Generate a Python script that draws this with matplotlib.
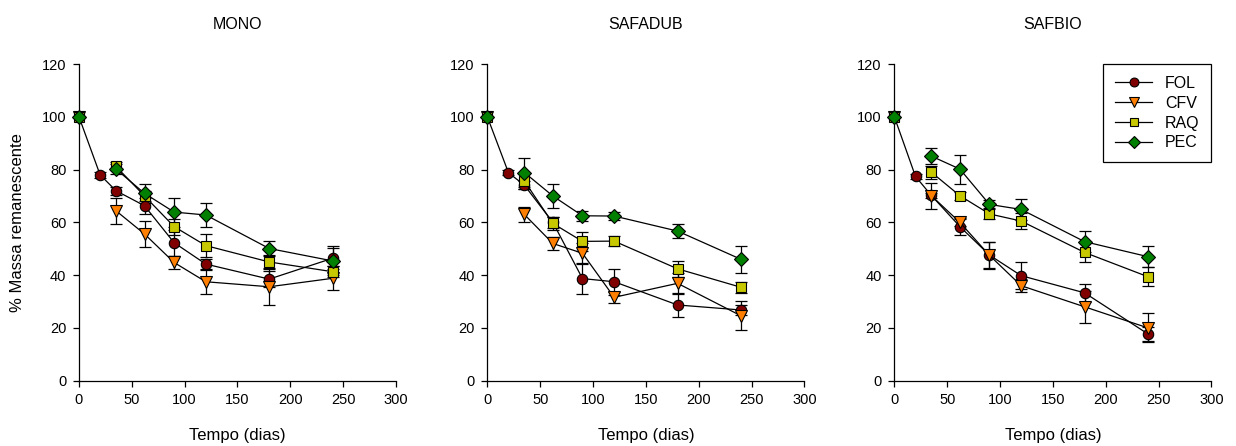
import matplotlib.pyplot as plt
import numpy as np

plt.rcParams['font.family'] = ['Liberation Sans', 'DejaVu Sans']

dias = [0, 20, 35, 62, 90, 120, 180, 240]
nan = np.nan

panels = ['MONO', 'SAFADUB', 'SAFBIO']
series = ['FOL', 'CFV', 'RAQ', 'PEC']

# mean values per panel / series (NaN = not sampled)
mono_fol = [100, 78, 72, 66.3, 52.3, 44.2, 38.5, 46.4]
mono_cfv = [100, nan, 64.4, 55.6, 44.8, 37.5, 35.6, 38.8]
mono_raq = [100, nan, 81.2, 70.0, 58.4, 51.2, 45.0, 41.3]
mono_pec = [100, nan, 80.2, 71.0, 63.9, 62.8, 50.1, 45.4]
mono_fol_err = [0, 1, 1.5, 3, 5, 2, 3, 4]
mono_cfv_err = [0, 0, 5, 5, 2.5, 4.5, 7, 4.5]
mono_raq_err = [0, 0, 1.5, 2, 3, 4.5, 2.5, 2]
mono_pec_err = [0, 0, 2, 3.5, 5.5, 4.5, 3, 5.5]

safadub_fol = [100, 78.8, 74.1, 60.0, 38.7, 37.5, 28.7, 26.8]
safadub_cfv = [100, nan, 63.0, 52.0, 48.3, 31.6, 36.9, 24.6]
safadub_raq = [100, nan, 75.7, 59.6, 52.8, 52.9, 42.4, 35.4]
safadub_pec = [100, nan, 78.9, 70.0, 62.5, 62.4, 56.7, 46.0]
safadub_fol_err = [0, 1, 1.5, 2, 6, 5, 4.5, 2]
safadub_cfv_err = [0, 0, 3, 2.5, 4, 2, 4, 5.5]
safadub_raq_err = [0, 0, 3, 2.5, 3.5, 2, 3, 2]
safadub_pec_err = [0, 0, 5.5, 4.5, 2, 1.5, 2.5, 5]

safbio_fol = [100, 77.4, 70.2, 58.4, 47.6, 39.8, 33.3, 17.7]
safbio_cfv = [100, nan, 70.1, 60.0, 47.5, 36.0, 28.0, 20.0]
safbio_raq = [100, nan, 79.0, 70.1, 63.2, 60.5, 48.6, 39.4]
safbio_pec = [100, nan, 85.1, 80.2, 66.8, 64.9, 52.7, 47.0]
safbio_fol_err = [0, 1, 1, 3, 5, 5, 3.5, 2.5]
safbio_cfv_err = [0, 0, 5, 1.5, 5, 2.5, 6, 5.5]
safbio_raq_err = [0, 0, 2.5, 1.5, 2, 3, 3.5, 3.5]
safbio_pec_err = [0, 0, 3, 5.5, 1.5, 4, 4, 4]

data = {
    'MONO': [(mono_fol, mono_fol_err), (mono_cfv, mono_cfv_err),
             (mono_raq, mono_raq_err), (mono_pec, mono_pec_err)],
    'SAFADUB': [(safadub_fol, safadub_fol_err), (safadub_cfv, safadub_cfv_err),
                (safadub_raq, safadub_raq_err), (safadub_pec, safadub_pec_err)],
    'SAFBIO': [(safbio_fol, safbio_fol_err), (safbio_cfv, safbio_cfv_err),
               (safbio_raq, safbio_raq_err), (safbio_pec, safbio_pec_err)],
}

cores = ['#800000', '#ff8000', '#c8c800', '#007f00']
marcas = ['o', 'v', 's', 'D']
tamanhos = [7.5, 8, 7, 7]

fig = plt.figure(figsize=(12.36, 4.46), dpi=100)
lefts = [0.0639, 0.3943, 0.7236]

for k, painel in enumerate(panels):
    ax = fig.add_axes([lefts[k], 0.1464, 0.2565, 0.7100])
    for i, (y, e) in enumerate(data[painel]):
        y = np.array(y, dtype=float)
        e = np.array(e, dtype=float)
        ok = ~np.isnan(y) & (e > 0)
        x = np.array(dias, dtype=float)
        ax.errorbar(x[ok], y[ok], yerr=e[ok], fmt='none', ecolor='black',
                    elinewidth=0.9, capsize=4.5, capthick=0.9, zorder=2)
        ax.plot(dias, y, color='black', lw=0.9, marker=marcas[i],
                markersize=tamanhos[i], markerfacecolor=cores[i],
                markeredgecolor='black', markeredgewidth=0.8,
                label=series[i], zorder=3 + i, clip_on=False)
    ax.set_xlim(0, 300)
    ax.set_ylim(0, 120)
    ax.set_xticks([0, 50, 100, 150, 200, 250, 300])
    ax.set_yticks([0, 20, 40, 60, 80, 100, 120])
    ax.spines['top'].set_visible(False)
    ax.spines['right'].set_visible(False)
    ax.spines['left'].set_linewidth(0.9)
    ax.spines['bottom'].set_linewidth(0.9)
    ax.tick_params(direction='out', length=4, width=0.9, labelsize=10.5, pad=5)
    ax.set_title(painel, fontsize=11.5, pad=25)
    ax.set_xlabel('Tempo (dias)', fontsize=12, labelpad=15)
    if k == 0:
        ax.set_ylabel('% Massa remanescente', fontsize=12, labelpad=12)
    if k == 2:
        leg = ax.legend(loc='upper right', bbox_to_anchor=(1.0, 1.0),
                        borderaxespad=0, fancybox=False, edgecolor='black',
                        fontsize=11.5, handlelength=2.3, borderpad=0.75,
                        labelspacing=0.3, markerscale=0.85, framealpha=1)
        leg.get_frame().set_linewidth(0.9)

fig.savefig('out.png', dpi=100)
